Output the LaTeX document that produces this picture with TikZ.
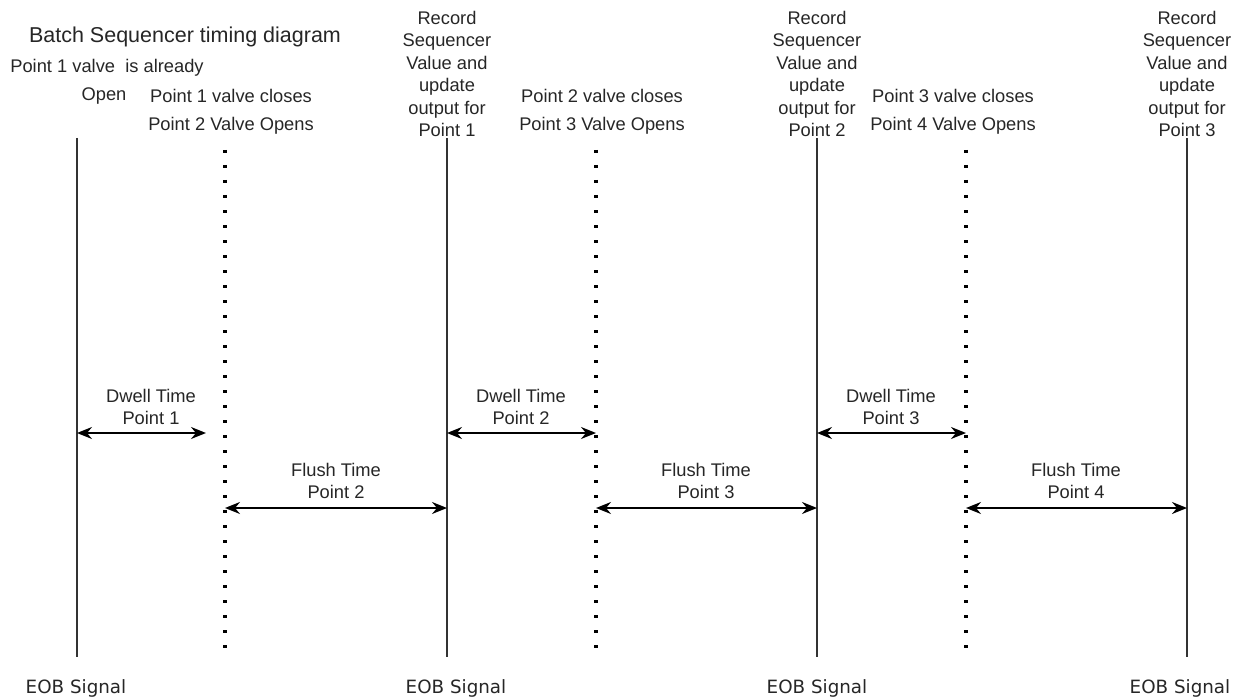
\documentclass[tikz,border=0pt]{standalone}
\usepackage{fontspec}
\setmainfont{Liberation Sans}
\newfontfamily\eobfont{DejaVu Sans}
\usetikzlibrary{arrows.meta}

\tikzset{
  lbl/.style={inner sep=0pt, text=black!85, font=\fontsize{18.3}{22.5}\selectfont, align=center},
  eob/.style={inner sep=0pt, text=black!85, font=\eobfont\fontsize{18.3}{22}\selectfont},
  solidline/.style={line width=2.2pt, draw=black!80},
  dotline/.style={line width=3.2pt, draw=black, dash pattern=on 3pt off 12pt},
  span/.style={line width=2pt, draw=black, {Stealth[length=15pt,width=12pt,inset=5pt]}-{Stealth[length=15pt,width=12pt,inset=5pt]}}
}

\begin{document}
\begin{tikzpicture}[x=1pt,y=-1pt]
            \useasboundingbox (0,0) rectangle (1235,698);

            % The title and the texts on top
            \node[lbl, font=\fontsize{21.5}{24}\selectfont] (title) at (185,37) {Batch Sequencer timing diagram};
            \node[lbl] (open1) at (107,68) {Point 1 valve\ \ is already};
            \node[lbl] (open2) at (104,96) {Open};
            \node[lbl] (sw1) at (231,112) {Point 1 valve closes\\[5pt]Point 2 Valve Opens};
            \node[lbl] (sw2) at (602,112) {Point 2 valve closes\\[5pt]Point 3 Valve Opens};
            \node[lbl] (sw3) at (953,112) {Point 3 valve closes\\[5pt]Point 4 Valve Opens};
            \node[lbl] (rec1) at (447,74) {Record\\Sequencer\\Value and\\update\\output for\\Point 1};
            \node[lbl] (rec2) at (817,74) {Record\\Sequencer\\Value and\\update\\output for\\Point 2};
            \node[lbl] (rec3) at (1187,74) {Record\\Sequencer\\Value and\\update\\output for\\Point 3};

            % The time lines
            \coordinate (t0) at (77,138);  \coordinate (b0) at (77,657);
            \coordinate (t1) at (447,138); \coordinate (b1) at (447,657);
            \coordinate (t2) at (817,138); \coordinate (b2) at (817,657);
            \coordinate (t3) at (1187,138); \coordinate (b3) at (1187,657);
            \coordinate (d1) at (225,150); \coordinate (e1) at (225,657);
            \coordinate (d2) at (596,150); \coordinate (e2) at (596,657);
            \coordinate (d3) at (966,150); \coordinate (e3) at (966,657);
            \draw[solidline] (t0) -- (b0);
            \draw[solidline] (t1) -- (b1);
            \draw[solidline] (t2) -- (b2);
            \draw[solidline] (t3) -- (b3);
            \draw[dotline] (d1) -- (e1);
            \draw[dotline] (d2) -- (e2);
            \draw[dotline] (d3) -- (e3);

            % The dwell arrows
            \coordinate (dw1a) at (77,433);  \coordinate (dw1b) at (206,433);
            \coordinate (dw2a) at (447,433); \coordinate (dw2b) at (596,433);
            \coordinate (dw3a) at (817,433); \coordinate (dw3b) at (966,433);
            \draw[span] (dw1a) -- (dw1b);
            \draw[span] (dw2a) -- (dw2b);
            \draw[span] (dw3a) -- (dw3b);
            \node[lbl] (dwl1) at (151,407) {Dwell Time\\Point 1};
            \node[lbl] (dwl2) at (521,407) {Dwell Time\\Point 2};
            \node[lbl] (dwl3) at (891,407) {Dwell Time\\Point 3};

            % The flush arrows
            \coordinate (fl1a) at (225,508); \coordinate (fl1b) at (447,508);
            \coordinate (fl2a) at (596,508); \coordinate (fl2b) at (817,508);
            \coordinate (fl3a) at (966,508); \coordinate (fl3b) at (1187,508);
            \draw[span] (fl1a) -- (fl1b);
            \draw[span] (fl2a) -- (fl2b);
            \draw[span] (fl3a) -- (fl3b);
            \node[lbl] (fll1) at (336,481) {Flush Time\\Point 2};
            \node[lbl] (fll2) at (706,481) {Flush Time\\Point 3};
            \node[lbl] (fll3) at (1076,481) {Flush Time\\Point 4};

            % The EOB labels
            \node[eob] (eob0) at (76,688) {EOB Signal};
            \node[eob] (eob1) at (456,688) {EOB Signal};
            \node[eob] (eob2) at (817,688) {EOB Signal};
            \node[eob] (eob3) at (1180,688) {EOB Signal};
        \end{tikzpicture}
\end{document}
